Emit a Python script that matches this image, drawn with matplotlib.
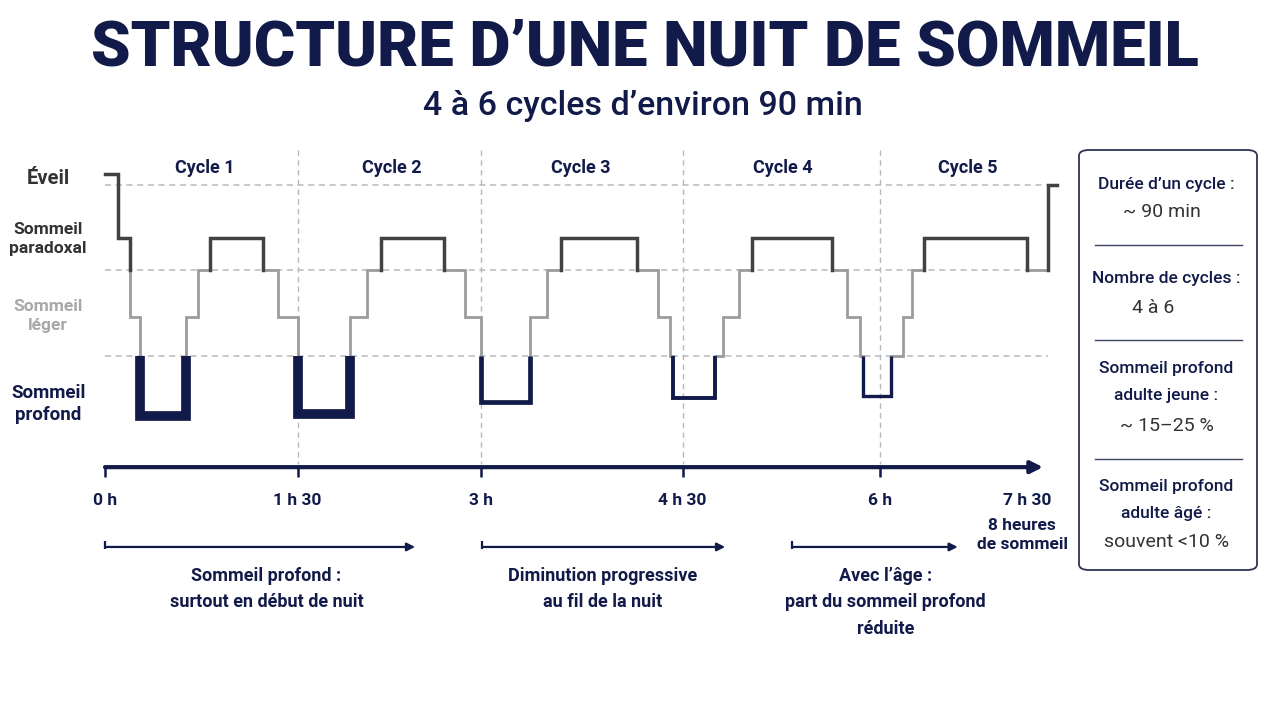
import matplotlib.pyplot as plt
from matplotlib.patches import FancyBboxPatch

# hypnogram
# time of each stage change (hours) and depth of each segment
# depth: 0 = Éveil, 0.93 = paradoxal, 1.49 / 2.32 = léger, > 3 = profond
t_change = [0, 0.10, 0.19, 0.27, 0.63, 0.72, 0.81, 1.22, 1.34, 1.49, 1.90,
            2.03, 2.14, 2.62, 2.79, 2.91, 3.29, 3.42, 3.53, 4.12, 4.28, 4.37,
            4.40, 4.72, 4.78, 4.91, 5.01, 5.63, 5.74, 5.84, 5.87, 6.08, 6.18,
            6.25, 6.34, 7.14, 7.30, 7.37]
depth = [-0.2, 0.93, 2.32, 4.05, 2.32, 1.49, 0.93, 1.49, 2.32, 4.02, 2.32,
         1.49, 0.93, 1.49, 2.32, 3.8, 2.32, 1.49, 0.93, 1.49, 2.32, 3.0,
         3.74, 3.0, 2.32, 1.49, 0.93, 1.49, 2.32, 3.0, 3.7, 3.0, 2.32,
         1.49, 0.93, 1.49, 0]

stage_names = ['Éveil', 'Sommeil\nparadoxal', 'Sommeil\nléger', 'Sommeil\nprofond']
stage_depth = [-0.12, 0.95, 2.3, 3.84]
grid_depth = [0, 1.49, 3.0]

cycle_names = ['Cycle 1', 'Cycle 2', 'Cycle 3', 'Cycle 4', 'Cycle 5']
cycle_mid = [0.77, 2.22, 3.68, 5.25, 6.68]

tick_pos = [0, 1.49, 2.91, 4.47, 6.0, 7.14]
tick_labels = ['0 h', '1 h 30', '3 h', '4 h 30', '6 h', '7 h 30']

note_spans = [(0, 2.40), (2.92, 4.80), (5.32, 6.60)]
note_mid = [1.25, 3.85, 6.04]
note_texts = ['Sommeil profond :\nsurtout en début de nuit',
              'Diminution progressive\nau fil de la nuit',
              'Avec l’âge :\npart du sommeil profond\nréduite']

box_heads = ['Durée d’un cycle :', 'Nombre de cycles :',
             'Sommeil profond\nadulte jeune :', 'Sommeil profond\nadulte âgé :']
box_values = ['~ 90 min', '4 à 6', '~ 15–25 %', 'souvent <10 %']

NAVY = '#111a48'
DARK = '#424242'
LIGHT = '#9c9c9c'
GRID = '#b9b9b9'
SANS = ['Roboto', 'DejaVu Sans']

W, H = 1280, 702
fig = plt.figure(figsize=(12.8, 7.02), dpi=100)
fig.patch.set_facecolor('white')

# one axes over the whole canvas: x in hours, y in sleep depth
PX_H = 129.2   # pixels per hour
PX_D = 57.0    # pixels per depth unit
ax = fig.add_axes([0, 0, 1, 1])
ax.set_xlim(-105 / PX_H, (W - 105) / PX_H)
ax.set_ylim((H - 185) / PX_D, -185 / PX_D)
ax.axis('off')

# guides
ax.hlines(grid_depth, 0, t_change[-2], colors=GRID, lw=1.1, linestyles=(0, (4, 3)), zorder=1)
ax.vlines(tick_pos[1:5], -0.62, 4.9, colors=GRID, lw=1.0, linestyles=(0, (4, 3)), zorder=1)

# hypnogram: split into runs coloured by zone
pts = []
for i, d in enumerate(depth):
    pts.append((t_change[i], d))
    pts.append((t_change[i + 1], d))

bounds = [1.49, 3.0]
fine = [pts[0]]
for (x1, y1), (x2, y2) in zip(pts[:-1], pts[1:]):
    if x1 == x2:
        for b in sorted(bounds, reverse=y2 < y1):
            if min(y1, y2) < b < max(y1, y2):
                fine.append((x1, b))
    fine.append((x2, y2))


def zone(d):
    if d < 1.49:
        return 'dark'
    if d <= 3.0:
        return 'light'
    return 'deep'


runs = []
for p, q in zip(fine[:-1], fine[1:]):
    z = zone((p[1] + q[1]) / 2)
    if runs and runs[-1][0] == z:
        runs[-1][1].append(q)
    else:
        runs.append([z, [p, q]])

deep_lw = [7, 7, 3.4, 2.8, 2.4]
k = 0
for z, seg in runs:
    xs = [p[0] for p in seg]
    ys = [p[1] for p in seg]
    if z == 'deep':
        ax.plot(xs, ys, color=NAVY, lw=deep_lw[k], solid_joinstyle='miter',
                solid_capstyle='butt', zorder=4)
        k += 1
    elif z == 'dark':
        ax.plot(xs, ys, color=DARK, lw=2.5, solid_joinstyle='miter', zorder=3)
    else:
        ax.plot(xs, ys, color=LIGHT, lw=2.0, solid_joinstyle='miter', zorder=2)

# stage labels
stage_colors = ['#333333', '#333333', '#a8a8a8', NAVY]
stage_sizes = [14.5, 12.5, 12.5, 13.5]
for name, d, c, fs in zip(stage_names, stage_depth, stage_colors, stage_sizes):
    ax.text(-0.44, d, name, ha='center', va='center', fontsize=fs, color=c,
            fontweight='bold', family=SANS, linespacing=1.3)

for name, x in zip(cycle_names, cycle_mid):
    ax.text(x, -0.3, name, ha='center', va='center', fontsize=13, color=NAVY,
            fontweight='bold', family=SANS)

# time axis
ax.annotate('', xy=(7.26, 4.95), xytext=(0, 4.95),
            arrowprops=dict(arrowstyle='-|>', color=NAVY, lw=3, mutation_scale=18,
                            shrinkA=0, shrinkB=0))
ax.vlines(tick_pos[:5], 4.95, 5.13, colors=NAVY, lw=1.8)
for x, lab in zip(tick_pos, tick_labels):
    ax.text(x, 5.53, lab, ha='center', va='center', fontsize=12.5, color=NAVY,
            fontweight='bold', family=SANS)
ax.text(7.1, 6.14, '8 heures\nde sommeil', ha='center', va='center', fontsize=12.5,
        color=NAVY, fontweight='bold', family=SANS, linespacing=1.3)

# notes under the axis
for (a, b), x, txt in zip(note_spans, note_mid, note_texts):
    ax.annotate('', xy=(b, 6.35), xytext=(a, 6.35),
                arrowprops=dict(arrowstyle='-|>', color=NAVY, lw=1.6, mutation_scale=12,
                                shrinkA=0, shrinkB=0))
    ax.vlines(a, 6.25, 6.38, colors=NAVY, lw=1.6)
    ax.text(x, 6.7, txt, ha='center', va='top', fontsize=13, color=NAVY,
            fontweight='bold', family=SANS, linespacing=1.6)

# titles
fig.text(0.504, 1 - 48 / H, 'STRUCTURE D’UNE NUIT DE SOMMEIL', ha='center', va='center',
         fontsize=45.5, fontweight='heavy', color=NAVY, family=SANS)
fig.text(0.502, 1 - 106 / H, '4 à 6 cycles d’environ 90 min', ha='center', va='center',
         fontsize=24.5, fontweight='medium', color=NAVY, family=SANS)

# side box
box = FancyBboxPatch((1079 / W, 1 - 570 / H), 178 / W, 420 / H,
                     boxstyle='round,pad=0,rounding_size=0.008', transform=fig.transFigure,
                     facecolor='white', edgecolor='#2c3454', lw=1.3)
fig.patches.append(box)
for y in [245, 340, 459]:
    fig.add_artist(plt.Line2D([1095 / W, 1242 / W], [1 - y / H] * 2, color='#3b4462', lw=1.0))

head_y = [184, 279, 382, 500]
value_y = [212, 308, 426, 542]
value_x = [1162, 1153, 1167, 1167]
for txt, y in zip(box_heads, head_y):
    fig.text(1166 / W, 1 - y / H, txt, ha='center', va='center', fontsize=12.5,
             fontweight='medium', color=NAVY, family=SANS, linespacing=1.95)
for txt, x, y in zip(box_values, value_x, value_y):
    fig.text(x / W, 1 - y / H, txt, ha='center', va='center', fontsize=14,
             color='#333333', family=SANS)

fig.savefig('out.png', dpi=100, facecolor='white')
